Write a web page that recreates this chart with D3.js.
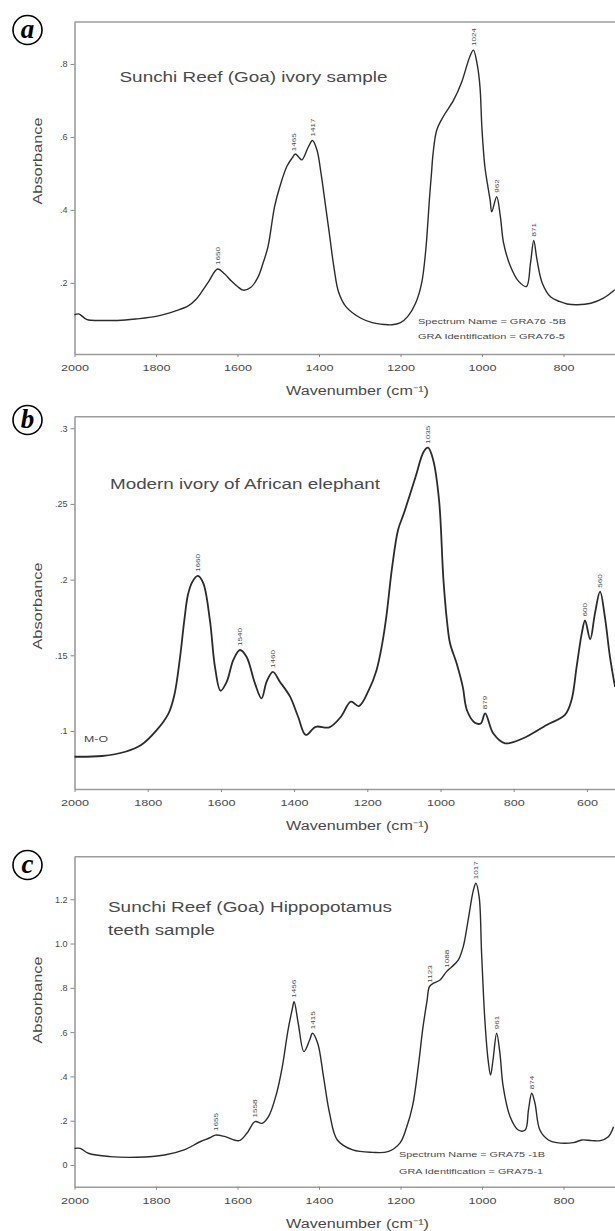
<!DOCTYPE html>
<html>
<head>
<meta charset="utf-8">
<script src="https://cdn.jsdelivr.net/npm/d3@7/dist/d3.min.js"></script>
<style>
  body { margin: 0; background: #fff; }
  svg text { font-family: "Liberation Sans", Arial, sans-serif; fill: #4a4a4a; }
</style>
</head>
<body>
<div id="chart"></div>
<script>

  // Data (wavenumber cm-1, absorbance)

  var waveA = [2000,1990,1969,1930,1894,1850,1800,1750,1721,1701,1690,1670,1649,1632,1615,1600,1586,1567,1550,1537,
               1525,1509,1496,1479,1466,1458,1450,1442,1426,1416,1405,1395,1385,1374,1363,1352,1334,1297,1269,1240,
               1221,1201,1182,1163,1148,1138,1132,1129,1124,1120,1111,1095,1070,1050,1030,1021,1012,1005,1000,993,
               985,980,976,964,955,947,930,910,891,881,873,865,852,832,810,791,766,733,702,674];
  var absA  = [0.112,0.115,0.099,0.097,0.097,0.101,0.108,0.124,0.137,0.156,0.172,0.205,0.238,0.225,0.205,0.190,0.180,0.188,0.215,0.255,
               0.300,0.409,0.464,0.519,0.542,0.553,0.545,0.537,0.573,0.590,0.564,0.500,0.420,0.330,0.240,0.175,0.135,0.103,0.091,0.086,
               0.085,0.090,0.108,0.144,0.200,0.290,0.380,0.430,0.500,0.555,0.619,0.656,0.700,0.750,0.820,0.838,0.800,0.738,0.620,0.519,
               0.460,0.427,0.395,0.436,0.382,0.309,0.245,0.204,0.190,0.254,0.316,0.263,0.199,0.162,0.149,0.142,0.140,0.144,0.158,0.181];
  var peakWaveA = [1649, 1462, 1416, 1021, 964, 873];
  var peakAbsA  = [0.238, 0.550, 0.590, 0.838, 0.436, 0.316];
  var peakTextA = ["1650", "1465", "1417", "1024", "962", "871"];

  var waveB = [2000,1925,1861,1818,1775,1743,1727,1712,1700,1690,1678,1663,1648,1630,1616,1601,1584,1566,1548,1530,
               1507,1489,1475,1458,1439,1411,1389,1368,1341,1304,1272,1245,1223,1196,1175,1159,1148,1132,1116,1100,
               1068,1046,1034,1020,1004,992,982,974,956,939,928,906,890,878,856,824,774,710,660,642,
               628,614,605,591,578,564,551,537,523];
  var absB  = [0.0830,0.0835,0.0863,0.0907,0.1007,0.1117,0.1240,0.1480,0.1730,0.1900,0.1985,0.2024,0.1975,0.1730,0.1420,0.1266,0.1326,0.1470,0.1535,0.1490,
               0.1315,0.1216,0.1326,0.1390,0.1326,0.1227,0.1094,0.0974,0.1028,0.1024,0.1094,0.1194,0.1165,0.1270,0.1400,0.1580,0.1755,0.2085,0.2328,0.2438,
               0.2680,0.2845,0.2871,0.2790,0.2526,0.2000,0.1720,0.1580,0.1447,0.1290,0.1139,0.1055,0.1050,0.1117,0.0985,0.0919,0.0952,0.1040,0.1106,0.1205,
               0.1425,0.1645,0.1730,0.1606,0.1777,0.1920,0.1755,0.1490,0.1290];
  var peakWaveB = [1663, 1548, 1458, 1034, 878, 605, 564];
  var peakAbsB  = [0.2024, 0.1535, 0.1390, 0.2871, 0.1117, 0.1730, 0.1920];
  var peakTextB = ["1660", "1540", "1460", "1035", "879", "600", "560"];

  var waveC = [2000,1986,1966,1913,1847,1779,1731,1692,1668,1654,1630,1596,1577,1557,1540,1524,1504,1490,1476,1466,
               1461,1451,1437,1423,1416,1403,1389,1374,1355,1317,1269,1231,1201,1185,1170,1156,1145,1135,1129,1120,
               1103,1087,1074,1058,1046,1034,1021,1015,1007,1001,993,985,979,973,964,956,948,931,911,894,
               886,878,870,858,837,817,776,755,730,710,690,677];
  var absC  = [0.075,0.075,0.053,0.038,0.035,0.045,0.068,0.105,0.123,0.135,0.128,0.110,0.143,0.196,0.188,0.218,0.324,0.444,0.609,0.700,
               0.737,0.640,0.512,0.564,0.595,0.549,0.399,0.233,0.113,0.068,0.057,0.060,0.100,0.170,0.270,0.450,0.620,0.740,0.805,0.820,
               0.835,0.873,0.895,0.926,0.986,1.106,1.242,1.272,1.211,0.956,0.655,0.474,0.406,0.474,0.595,0.504,0.354,0.218,0.158,0.158,
               0.248,0.324,0.279,0.158,0.113,0.101,0.101,0.113,0.110,0.110,0.128,0.173];
  var peakWaveC = [1654, 1557, 1461, 1416, 1129, 1087, 1015, 964, 878];
  var peakAbsC  = [0.135, 0.196, 0.737, 0.595, 0.805, 0.873, 1.272, 0.595, 0.324];
  var peakTextC = ["1655", "1558", "1456", "1415", "1123", "1088", "1017", "961", "874"];

  // Tick values and labels

  var xTicksA = [2000, 1800, 1600, 1400, 1200, 1000, 800];
  var xTicksB = [2000, 1800, 1600, 1400, 1200, 1000, 800, 600];
  var xTicksC = [2000, 1800, 1600, 1400, 1200, 1000, 800];
  var yTicksA = [0.2, 0.4, 0.6, 0.8];
  var yLabelsA = [".2", ".4", ".6", ".8"];
  var yTicksB = [0.1, 0.15, 0.2, 0.25, 0.3];
  var yLabelsB = [".1", ".15", ".2", ".25", ".3"];
  var yTicksC = [0, 0.2, 0.4, 0.6, 0.8, 1.0, 1.2];
  var yLabelsC = ["0", ".2", ".4", ".6", ".8", "1.0", "1.2"];

  var width = 615, height = 1231;

  var svg = d3.select("#chart")
      .append("svg")
      .attr("width", width)
      .attr("height", height);

  // stretch text horizontally, the figure's type is wide
  function stretch(sel, k) {
    sel.each(function() {
      var l = this.getComputedTextLength();
      d3.select(this).attr("textLength", l * k).attr("lengthAdjust", "spacingAndGlyphs");
    });
  }

  function drawPanel(p) {
    var g = svg.append("g");

    var x = d3.scaleLinear()
        .domain([2000, 400])
        .range([p.left, p.left + 1600 * p.pxPerCm]);

    var y = d3.scaleLinear()
        .domain(p.yDomain)
        .range([p.bottom, p.top]);

    // frame top
    g.append("line")
      .attr("x1", p.left).attr("x2", width)
      .attr("y1", p.top).attr("y2", p.top)
      .attr("stroke", "#9c9c9c")
      .attr("stroke-width", 1.6);

    // Axes
    var xAxis = g.append("g")
        .attr("transform", `translate(0, ${p.bottom})`)
        .call(d3.axisBottom(x).tickValues(p.xTicks).tickFormat(d3.format("d")).tickSize(3).tickSizeOuter(0).tickPadding(8));

    var yAxis = g.append("g")
        .attr("transform", `translate(${p.left}, 0)`)
        .call(d3.axisLeft(y).tickValues(p.yTicks).tickFormat(function(d, i) { return p.yLabels[i]; })
              .tickSize(4).tickSizeOuter(0).tickPadding(3));

    g.selectAll(".domain").attr("stroke", "#9c9c9c").attr("stroke-width", 1.6);
    g.selectAll(".tick line").attr("stroke", "#888");
    g.selectAll(".tick text").attr("font-size", "9px").attr("fill", "#4a4a4a")
      .style("font-family", '"Liberation Sans", Arial, sans-serif');
    stretch(xAxis.selectAll("text"), 1.4);

    // Labels
    g.append("text")
      .attr("x", 286)
      .attr("y", p.bottom + 41)
      .attr("font-size", "12px")
      .attr("textLength", 143)
      .attr("lengthAdjust", "spacingAndGlyphs")
      .text("Wavenumber  (cm\u207B\u00B9)");

    g.append("text")
      .attr("transform", `translate(42, ${p.yLabelMid}) rotate(-90)`)
      .attr("text-anchor", "middle")
      .attr("font-size", "13px")
      .attr("textLength", 87)
      .attr("lengthAdjust", "spacingAndGlyphs")
      .text("Absorbance");

    p.title.forEach(function(t) {
      g.append("text")
        .attr("x", t.x).attr("y", t.y)
        .attr("font-size", "14px")
        .attr("fill", "#444")
        .attr("textLength", t.w)
        .attr("lengthAdjust", "spacingAndGlyphs")
        .text(t.text);
    });

    p.notes.forEach(function(t) {
      g.append("text")
        .attr("x", t.x).attr("y", t.y)
        .attr("font-size", t.size + "px")
        .attr("fill", "#555")
        .attr("textLength", t.w)
        .attr("lengthAdjust", "spacingAndGlyphs")
        .text(t.text);
    });

    // panel letter
    g.append("circle")
      .attr("cx", 27.5).attr("cy", p.letterY).attr("r", 14.5)
      .attr("fill", "none").attr("stroke", "#000").attr("stroke-width", 1.6);
    g.append("text")
      .attr("x", 27.5).attr("y", p.letterY + 8)
      .attr("text-anchor", "middle")
      .attr("font-size", "27px")
      .attr("font-weight", "bold")
      .attr("font-style", "italic")
      .style("font-family", '"Liberation Serif", "Times New Roman", serif')
      .style("fill", "#000")
      .text(p.letter);

    // Draw data
    var line = d3.line()
        .x(function(d, i) { return x(p.wave[i]); })
        .y(function(d, i) { return y(p.abs[i]); })
        .curve(d3.curveCatmullRom.alpha(0.5));

    g.append("path")
      .attr("d", line(p.wave))
      .attr("fill", "none")
      .attr("stroke", "#2b2b2b")
      .attr("stroke-width", p.lineWidth)
      .attr("stroke-linejoin", "round");

    // peak labels
    var peaks = g.selectAll(".peak")
        .data(p.peakText)
        .enter().append("text")
        .attr("class", "peak")
        .attr("transform", function(d, i) {
          return `translate(${x(p.peakWave[i]) + 2.2}, ${y(p.peakAbs[i]) - 4}) rotate(-90)`;
        })
        .attr("font-size", "6px")
        .attr("fill", "#555")
        .text(function(d) { return d; });
    stretch(peaks, 1.35);
  }

  drawPanel({
    letter: "a", letterY: 30,
    left: 74.5, pxPerCm: 0.4075, top: 22, bottom: 354, yDomain: [0.005, 0.915],
    xTicks: xTicksA, yTicks: yTicksA, yLabels: yLabelsA, yLabelMid: 161,
    wave: waveA, abs: absA, peakWave: peakWaveA, peakAbs: peakAbsA, peakText: peakTextA,
    lineWidth: 1.4,
    title: [{text: "Sunchi Reef (Goa) ivory sample", x: 119.5, y: 81.5, w: 268}],
    notes: [{text: "Spectrum Name = GRA76 -5B", x: 418, y: 324, w: 148, size: 7.5},
            {text: "GRA Identification = GRA76-5", x: 418, y: 339, w: 147, size: 7.5}]
  });

  drawPanel({
    letter: "b", letterY: 420,
    left: 74.5, pxPerCm: 0.366, top: 416.7, bottom: 789, yDomain: [0.0617, 0.3076],
    xTicks: xTicksB, yTicks: yTicksB, yLabels: yLabelsB, yLabelMid: 606,
    wave: waveB, abs: absB, peakWave: peakWaveB, peakAbs: peakAbsB, peakText: peakTextB,
    lineWidth: 1.8,
    title: [{text: "Modern ivory of African elephant", x: 110, y: 489, w: 270}],
    notes: [{text: "M-O", x: 84, y: 742, w: 24, size: 9}]
  });

  drawPanel({
    letter: "c", letterY: 865,
    left: 74.5, pxPerCm: 0.4075, top: 856.7, bottom: 1186.7, yDomain: [-0.098, 1.392],
    xTicks: xTicksC, yTicks: yTicksC, yLabels: yLabelsC, yLabelMid: 1000,
    wave: waveC, abs: absC, peakWave: peakWaveC, peakAbs: peakAbsC, peakText: peakTextC,
    lineWidth: 1.4,
    title: [{text: "Sunchi Reef (Goa) Hippopotamus", x: 108, y: 912, w: 284},
            {text: "teeth sample", x: 108, y: 935, w: 107}],
    notes: [{text: "Spectrum Name = GRA75 -1B", x: 399, y: 1157, w: 146, size: 7.5},
            {text: "GRA Identification = GRA75-1", x: 399, y: 1174, w: 144, size: 7.5}]
  });

</script>
</body>
</html>
